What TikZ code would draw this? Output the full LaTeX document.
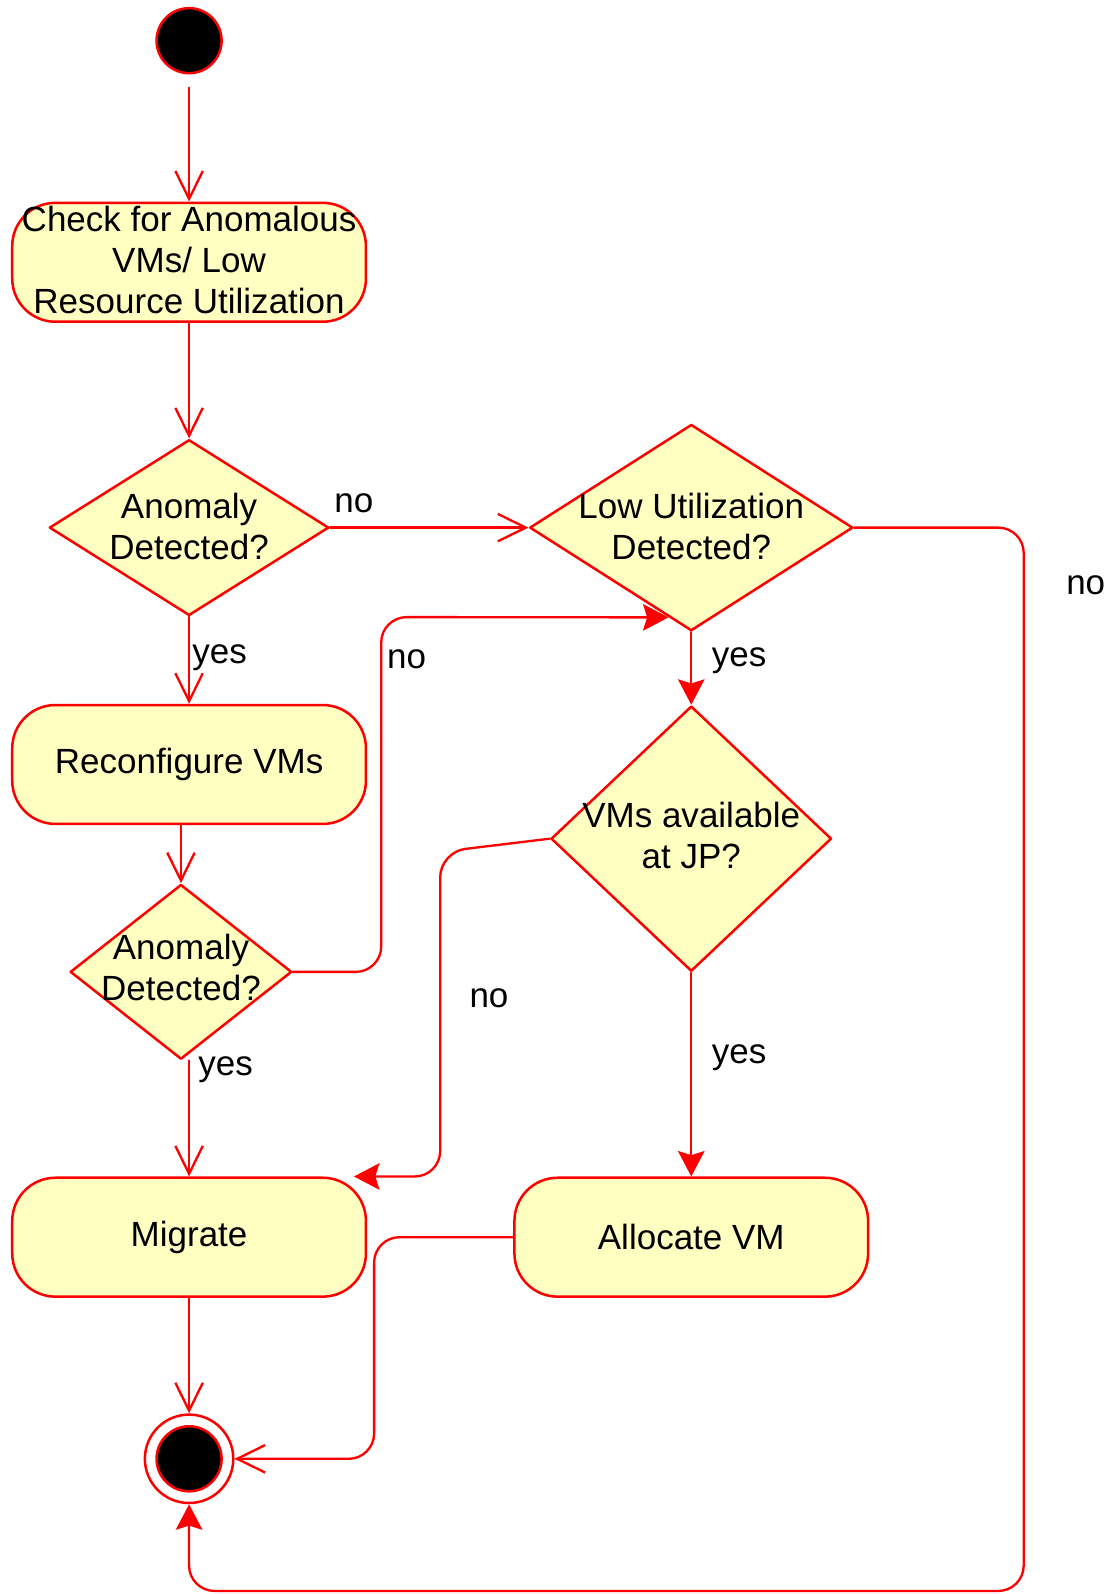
\documentclass[tikz,border=0pt]{standalone}
\usepackage{fontspec}
\setmainfont{Liberation Sans}
\usetikzlibrary{arrows.meta,shapes.geometric,calc}
\definecolor{ffqqqq}{rgb}{1,0,0}
\definecolor{ffffcc}{rgb}{1,1,0.76}
\tikzset{
  actbox/.style={rectangle,rounded corners=0.85cm,draw=ffqqqq,fill=ffffcc,line width=1.4pt,minimum width=6.96cm,minimum height=2.34cm,align=center,inner sep=0pt},
  decbox/.style={diamond,draw=ffqqqq,fill=ffffcc,line width=1.4pt,inner sep=0pt},
  startdot/.style={circle,draw=ffqqqq,fill=black,line width=1.4pt,minimum size=1.28cm,inner sep=0pt},
  stopring/.style={circle,draw=ffqqqq,fill=white,line width=1.4pt,minimum size=1.74cm,inner sep=0pt},
  flow/.style={draw=ffqqqq,line width=1.3pt,-{Straight Barb[length=0.55cm,width=0.54cm]}},
  flowf/.style={draw=ffqqqq,line width=1.3pt,-{Stealth[length=0.5cm,width=0.52cm,inset=0.08cm]}},
  lbl/.style={inner sep=0pt,align=center}
}
\begin{document}
\begin{tikzpicture}[line cap=round,line join=round,x=0.02cm,y=-0.02cm,font=\fontsize{19.6}{23}\selectfont]
\useasboundingbox (0,0) rectangle (1095,1568);
\node[startdot] (start) at (186,40) {};
\node[actbox,label={[lbl,yshift=0.05cm]center:Check for Anomalous\\VMs/ Low\\Resource Utilization}] (check) at (186,258) {};
\node[decbox,minimum width=5.5cm,minimum height=3.46cm,label={[lbl,yshift=0.02cm]center:Anomaly\\Detected?}] (anom) at (186,519) {};
\node[decbox,minimum width=6.36cm,minimum height=4.06cm,label={[lbl,yshift=0.02cm]center:Low Utilization\\Detected?}] (lowutil) at (680,519) {};
\node[actbox,label={[lbl]center:Reconfigure VMs}] (reconf) at (186,752) {};
\node[decbox,minimum width=4.36cm,minimum height=3.44cm,label={[lbl,yshift=0.08cm]center:Anomaly\\Detected?}] (anomb) at (178,956) {};
\node[decbox,minimum width=5.52cm,minimum height=5.22cm,label={[lbl,yshift=0.06cm]center:VMs available\\at JP?}] (avail) at (680,825) {};
\node[actbox,label={[lbl]center:Migrate}] (migrate) at (186,1217) {};
\node[actbox,label={[lbl]center:Allocate VM}] (alloc) at (680,1217) {};
\node[stopring] (stop) at (186,1435) {};
\node[startdot] (stopdot) at (stop) {};
\coordinate (lowin) at ($(lowutil.west)!0.86!(lowutil.south)$);
\coordinate (migin) at ([xshift=-0.26cm]migrate.north east);
\draw[flow,shorten <=0.26cm] (start) -- (check);
\draw[flow] (check) -- (anom);
\draw[flow] (anom) -- (lowutil);
\draw[flow] (anom) -- (reconf);
\draw[flow] (anomb.north |- reconf.south) -- (anomb);
\draw[flowf,rounded corners=0.5cm] (anomb.east) -| (375,607) -- (lowin);
\draw[flowf] (lowutil) -- (avail);
\draw[flowf,rounded corners=0.5cm] (avail.west) -- (433,838) |- (migin);
\draw[flowf] (avail) -- (alloc);
\draw[flow] (migrate.north |- anomb.south) -- (migrate);
\draw[flow,rounded corners=0.5cm] (alloc.west) -| (368,1435) -- (stop);
\draw[flow] (migrate) -- (stop);
\draw[flowf,rounded corners=0.5cm] (lowutil.east) -| (1007,1565) -| (stop.south);
\draw (348,495) node[lbl] (nolow) {no};
\draw (216,647) node[lbl] (yesrec) {yes};
\draw (400,648) node[lbl] (noback) {no};
\draw (727,650) node[lbl] (yesavail) {yes};
\draw (481,982) node[lbl] (nomig) {no};
\draw (222,1052) node[lbl] (yesmig) {yes};
\draw (727,1040) node[lbl] (yesalloc) {yes};
\draw (1068,576) node[lbl] (nostop) {no};
\end{tikzpicture}
\end{document}
